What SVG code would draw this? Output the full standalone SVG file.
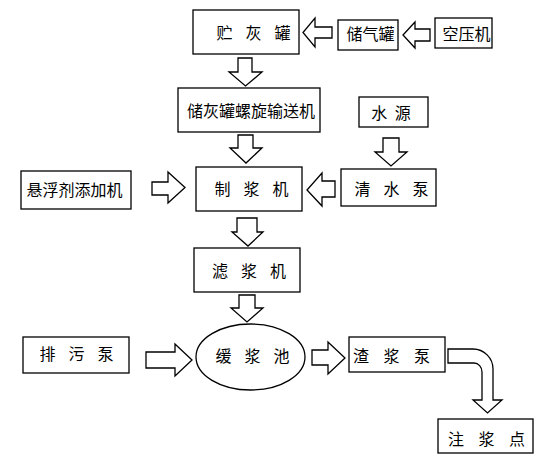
<svg xmlns="http://www.w3.org/2000/svg" width="554" height="464" viewBox="0 0 554 464">
<style>
.box{fill:#fff;stroke:#000;stroke-width:1.3}
.arr{fill:#fff;stroke:#000;stroke-width:1.3;stroke-linejoin:miter}
text{font-family:"Noto Sans CJK SC","Noto Sans CJK JP",sans-serif;font-size:16px;fill:#000;text-anchor:middle}
.sp{word-spacing:9.5px}
.sp2{word-spacing:4px}
.sp3{word-spacing:11px}
</style>
<rect width="554" height="464" fill="#fff"/>
<g id="connectors">
<polygon class="arr" points="332,27 315,27 315,18 303,32.5 315,47 315,38 332,38"/>
<polygon class="arr" points="430,29 415,29 415,22 403,35 415,48 415,41 430,41"/>
<polygon class="arr" points="238,58 252,58 252,72 262,72 245.5,86 229,72 238,72"/>
<polygon class="arr" points="238,135 253,135 253,148 262,148 246,163 230,148 238,148"/>
<polygon class="arr" points="383,138 399,138 399,152 407,152 391,166 375,152 383,152"/>
<polygon class="arr" points="152,182 168,182 168,172 185,187.5 168,203 168,195 152,195"/>
<polygon class="arr" points="335,181 322,181 322,173 307,190 322,206 322,197 335,197"/>
<polygon class="arr" points="237,218 257,218 257,232 263,232 248,246 232,232 237,232"/>
<polygon class="arr" points="239,295 255,295 255,308 263,308 247,322 231,308 239,308"/>
<polygon class="arr" points="146,352 175,352 175,344 192,360 175,376 175,368 146,368"/>
<polygon class="arr" points="312,350 328,350 328,342 345,358 328,374 328,365 312,365"/>
<path class="arr" d="M448,349 L473,349 A20,20 0 0 1 493,369 L493,400 L502,400 L487.5,413 L473,400 L482,400 L482,372 A8,9 0 0 0 474,363 L448,363 Z"/>
</g>
<g id="n1"><rect class="box" x="193" y="10" width="106" height="44"/><text class="sp" x="253.5" y="38.5">贮 灰 罐</text></g>
<g id="n2"><rect class="box" x="338" y="20" width="60" height="30"/><text x="370.5" y="39.5">储气罐</text></g>
<g id="n3"><rect class="box" x="435" y="18" width="57" height="30"/><text x="466.5" y="39.5">空压机</text></g>
<g id="n4"><rect class="box" x="178" y="88" width="142" height="44"/><text x="251" y="116.5">储灰罐螺旋输送机</text></g>
<g id="n5"><rect class="box" x="359" y="97" width="69" height="30"/><text class="sp2" x="391" y="119">水 源</text></g>
<g id="n6"><rect class="box" x="21" y="171" width="110" height="38"/><text x="74.5" y="195.5">悬浮剂添加机</text></g>
<g id="n7"><rect class="box" x="196" y="167" width="106" height="44"/><text class="sp" x="251.5" y="194.5">制 浆 机</text></g>
<g id="n8"><rect class="box" x="341" y="169" width="95" height="37"/><text class="sp" x="391.5" y="194.5">清 水 泵</text></g>
<g id="n9"><rect class="box" x="194" y="248" width="106" height="44"/><text class="sp" x="249" y="276.5">滤 浆 机</text></g>
<g id="n10"><rect class="box" x="23" y="337" width="106" height="36"/><text class="sp" x="76.5" y="359.5">排 污 泵</text></g>
<g id="n11"><ellipse class="box" cx="250.5" cy="357" rx="54.5" ry="33"/><text class="sp" x="252.5" y="361.5">缓 浆 池</text></g>
<g id="n12"><rect class="box" x="349" y="337" width="96" height="35"/><text class="sp3" x="391.5" y="361.5">渣 浆 泵</text></g>
<g id="n13"><rect class="box" x="438" y="419" width="95" height="34"/><text class="sp3" x="486.5" y="444.5">注 浆 点</text></g>
</svg>
